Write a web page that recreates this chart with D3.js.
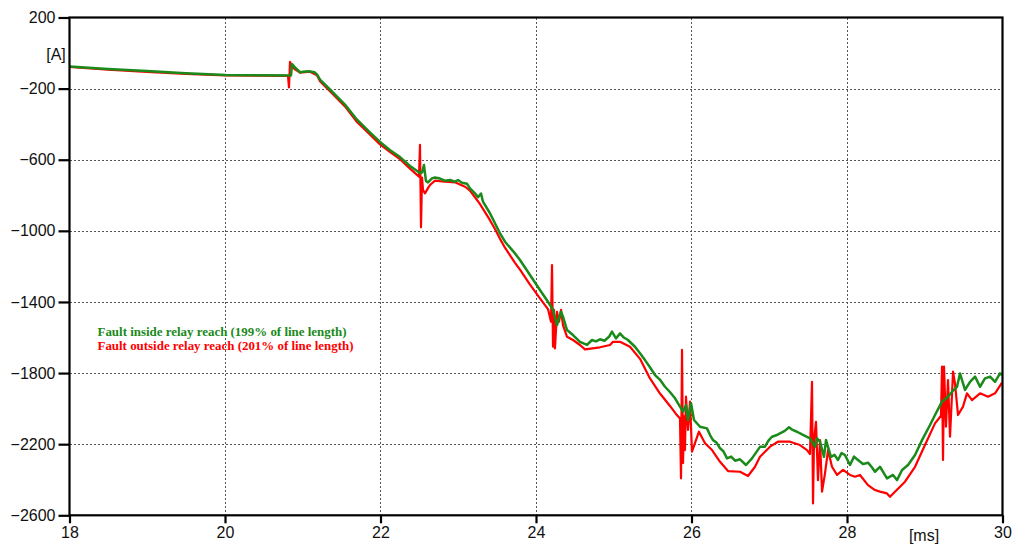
<!DOCTYPE html>
<html>
<head>
<meta charset="utf-8">
<script src="https://cdn.jsdelivr.net/npm/d3@7"></script>
<style>
  html, body { margin: 0; padding: 0; background: #fff; }
  svg { display: block; }
  .tick text { font-family: "Liberation Sans", Arial, sans-serif; font-size: 16px; fill: #111; }
</style>
</head>
<body>
<svg id="chart" width="1016" height="546"></svg>
<script>
// Time axis [ms] and current axis [A]
const xTicks = [18, 20, 22, 24, 26, 28, 30];
const yTicks = [200, -200, -600, -1000, -1400, -1800, -2200, -2600];
const xUnit = "[ms]";
const yUnit = "[A]";

const legendLabels = [
  "Fault inside relay reach (199% of line length)",
  "Fault outside relay reach (201% of line length)"
];

// Fault inside relay reach: [t ms, I A]
const insideReach = [
  [18.000, -75], [18.495, -90], [18.997, -101], [19.498, -114], [20.009, -123],
  [20.450, -125], [20.849, -126], [20.862, -62], [20.900, -80], [20.965, -108],
  [21.030, -104], [21.093, -103], [21.150, -108], [21.183, -120], [21.222, -150],
  [21.350, -205], [21.543, -290], [21.698, -375], [21.850, -440], [21.994, -500],
  [22.120, -545], [22.251, -585], [22.380, -635], [22.508, -675], [22.534, -672],
  [22.559, -630], [22.585, -720], [22.611, -728], [22.662, -705], [22.701, -700],
  [22.765, -706], [22.830, -718], [22.894, -714], [22.958, -724], [22.997, -714],
  [23.048, -729], [23.112, -735], [23.151, -761], [23.215, -789], [23.254, -811],
  [23.293, -790], [23.318, -836], [23.408, -901], [23.537, -1014], [23.601, -1061],
  [23.730, -1127], [23.794, -1164], [23.923, -1248], [24.051, -1333], [24.154, -1399],
  [24.219, -1445], [24.270, -1530], [24.322, -1455], [24.347, -1483], [24.399, -1558],
  [24.476, -1586], [24.566, -1624], [24.656, -1642], [24.720, -1614], [24.770, -1622],
  [24.823, -1610], [24.880, -1618], [24.939, -1596], [24.977, -1567], [25.029, -1605],
  [25.080, -1577], [25.130, -1600], [25.183, -1614], [25.273, -1652], [25.340, -1690],
  [25.402, -1727], [25.470, -1770], [25.531, -1811], [25.600, -1840], [25.659, -1877],
  [25.720, -1905], [25.788, -1942], [25.852, -1989], [25.891, -2017], [25.929, -1980],
  [25.955, -2064], [25.994, -1970], [26.032, -2064], [26.109, -2102], [26.199, -2111],
  [26.240, -2150], [26.277, -2177], [26.320, -2190], [26.367, -2223], [26.410, -2240],
  [26.457, -2280], [26.510, -2270], [26.560, -2293], [26.624, -2285], [26.701, -2317],
  [26.778, -2280], [26.881, -2215], [26.945, -2214], [26.990, -2180], [27.035, -2158],
  [27.090, -2150], [27.138, -2139], [27.200, -2125], [27.254, -2105], [27.300, -2120],
  [27.357, -2130], [27.434, -2148], [27.524, -2167], [27.589, -2214], [27.614, -2167],
  [27.653, -2186], [27.704, -2271], [27.730, -2177], [27.794, -2271], [27.840, -2260],
  [27.884, -2289], [27.930, -2250], [27.974, -2261], [28.039, -2317], [28.090, -2270],
  [28.129, -2285], [28.206, -2312], [28.270, -2304], [28.320, -2330], [28.360, -2355],
  [28.424, -2327], [28.470, -2360], [28.514, -2392], [28.592, -2373], [28.643, -2402],
  [28.708, -2345], [28.785, -2317], [28.875, -2261], [28.965, -2177], [29.068, -2092],
  [29.132, -2036], [29.222, -1961], [29.299, -1933], [29.351, -1905], [29.415, -1877],
  [29.453, -1802], [29.518, -1895], [29.582, -1849], [29.647, -1820], [29.711, -1877],
  [29.775, -1830], [29.840, -1820], [29.904, -1849], [29.968, -1802], [29.994, -1811]
];

// Fault outside relay reach: [t ms, I A]
const outsideReach = [
  [18.000, -78], [18.495, -94], [18.997, -106], [19.498, -117], [20.009, -126],
  [20.450, -127], [20.810, -128], [20.823, -193], [20.836, -50], [20.862, -75],
  [20.900, -92], [20.965, -110], [21.093, -105], [21.183, -125], [21.222, -158],
  [21.350, -215], [21.543, -300], [21.698, -388], [21.850, -452], [21.994, -514],
  [22.120, -556], [22.251, -597], [22.380, -650], [22.495, -695], [22.508, -517],
  [22.521, -980], [22.534, -700], [22.547, -770], [22.572, -789], [22.611, -760],
  [22.637, -742], [22.701, -718], [22.830, -724], [22.958, -727], [23.087, -752],
  [23.151, -774], [23.215, -811], [23.280, -850], [23.344, -895], [23.408, -940],
  [23.472, -990], [23.537, -1045], [23.601, -1095], [23.730, -1180], [23.794, -1218],
  [23.923, -1302], [24.051, -1380], [24.154, -1440], [24.193, -1511], [24.206, -1192],
  [24.219, -1652], [24.232, -1445], [24.244, -1661], [24.270, -1455], [24.296, -1511],
  [24.322, -1445], [24.347, -1530], [24.399, -1596], [24.476, -1614], [24.566, -1642],
  [24.630, -1667], [24.823, -1655], [24.952, -1642], [24.990, -1624], [25.080, -1624],
  [25.209, -1652], [25.338, -1720], [25.466, -1830], [25.595, -1915], [25.723, -1985],
  [25.800, -2030], [25.852, -2055], [25.865, -2392], [25.878, -1670], [25.891, -2306],
  [25.904, -2043], [25.916, -2233], [25.929, -1933], [25.955, -2120], [25.981, -1961],
  [26.006, -2242], [26.058, -2177], [26.096, -2130], [26.174, -2195], [26.264, -2233],
  [26.367, -2299], [26.470, -2351], [26.624, -2355], [26.727, -2379], [26.817, -2327],
  [26.881, -2271], [27.010, -2214], [27.112, -2186], [27.267, -2186], [27.395, -2205],
  [27.486, -2233], [27.524, -2255], [27.537, -2055], [27.550, -1849], [27.563, -2533],
  [27.576, -2177], [27.601, -2074], [27.627, -2402], [27.653, -2177], [27.679, -2467],
  [27.717, -2364], [27.756, -2233], [27.807, -2327], [27.872, -2373], [27.949, -2345],
  [28.039, -2373], [28.103, -2383], [28.167, -2373], [28.270, -2430], [28.360, -2458],
  [28.424, -2467], [28.514, -2477], [28.553, -2496], [28.617, -2467], [28.746, -2411],
  [28.875, -2327], [29.003, -2205], [29.132, -2083], [29.209, -2040], [29.222, -1764],
  [29.235, -2289], [29.248, -1764], [29.273, -2102], [29.299, -1839], [29.325, -2158],
  [29.364, -1792], [29.389, -1858], [29.428, -2036], [29.492, -1989], [29.543, -1914],
  [29.608, -1952], [29.711, -1914], [29.814, -1933], [29.904, -1914], [29.994, -1854]
];

const colors = { inside: "#1a8a1a", outside: "#ff0000" };

const svg = d3.select("#chart");
const plotLeft = 69.5, plotRight = 1002.5, plotTop = 17.5, plotBottom = 515.3;

const x = d3.scaleLinear().domain([18, 30]).range([plotLeft, plotRight]);
const y = d3.scaleLinear().domain([-2600, 200]).range([plotBottom, plotTop]);

// Dotted grid
const grid = svg.append("g").attr("stroke", "#555").attr("stroke-width", 1)
  .attr("stroke-dasharray", "2,2").attr("shape-rendering", "crispEdges");
grid.selectAll("line.v").data(xTicks.slice(1, -1)).join("line").attr("class", "v")
  .attr("x1", d => Math.round(x(d)) + 0.5).attr("x2", d => Math.round(x(d)) + 0.5)
  .attr("y1", plotTop).attr("y2", plotBottom);
grid.selectAll("line.h").data(yTicks.slice(1, -1)).join("line").attr("class", "h")
  .attr("y1", d => Math.round(y(d)) + 0.5).attr("y2", d => Math.round(y(d)) + 0.5)
  .attr("x1", plotLeft).attr("x2", plotRight);

// Traces
svg.append("clipPath").attr("id", "plot").append("rect")
  .attr("x", plotLeft).attr("y", plotTop)
  .attr("width", plotRight - plotLeft).attr("height", plotBottom - plotTop);
const line = d3.line().x(d => x(d[0])).y(d => y(d[1]));
const traces = svg.append("g").attr("clip-path", "url(#plot)").attr("fill", "none")
  .attr("stroke-linejoin", "round");
traces.append("path").datum(outsideReach).attr("d", line)
  .attr("stroke", colors.outside).attr("stroke-width", 2.2);
traces.append("path").datum(insideReach).attr("d", line)
  .attr("stroke", colors.inside).attr("stroke-width", 2.5);

// Frame
svg.append("rect").attr("x", plotLeft).attr("y", plotTop)
  .attr("width", plotRight - plotLeft).attr("height", plotBottom - plotTop)
  .attr("fill", "none").attr("stroke", "#000").attr("stroke-width", 2.2);

// Axes
const yAxis = d3.axisLeft(y).tickValues(yTicks).tickSize(11).tickPadding(3)
  .tickFormat(d3.format("d"));
const gy = svg.append("g").attr("transform", `translate(${plotLeft},0)`).call(yAxis);
gy.select(".domain").remove();
gy.selectAll(".tick line").attr("stroke", "#000").attr("stroke-width", 2.2);

const xAxis = d3.axisBottom(x).tickValues(xTicks).tickSize(8).tickPadding(3)
  .tickFormat(d3.format("d"));
const gx = svg.append("g").attr("transform", `translate(0,${plotBottom})`).call(xAxis);
gx.select(".domain").remove();
gx.selectAll(".tick line").attr("stroke", "#000").attr("stroke-width", 2.2);

// Units
svg.append("text").attr("x", 56).attr("y", 60).attr("text-anchor", "middle")
  .attr("font-family", "Liberation Sans, Arial, sans-serif").attr("font-size", 16)
  .attr("fill", "#111").text(yUnit);
svg.append("text").attr("x", 924).attr("y", 541).attr("text-anchor", "middle")
  .attr("font-family", "Liberation Sans, Arial, sans-serif").attr("font-size", 16)
  .attr("fill", "#111").text(xUnit);

// Legend
const legendWidths = [249, 256];
svg.append("g").selectAll("text").data(legendLabels).join("text")
  .attr("x", 97.5).attr("y", (d, i) => 336 + i * 14)
  .attr("font-family", "Liberation Serif, Times New Roman, serif")
  .attr("font-weight", "bold").attr("font-size", 12.5)
  .attr("textLength", (d, i) => legendWidths[i]).attr("lengthAdjust", "spacingAndGlyphs")
  .attr("fill", (d, i) => i === 0 ? colors.inside : colors.outside)
  .text(d => d);
</script>
</body>
</html>
